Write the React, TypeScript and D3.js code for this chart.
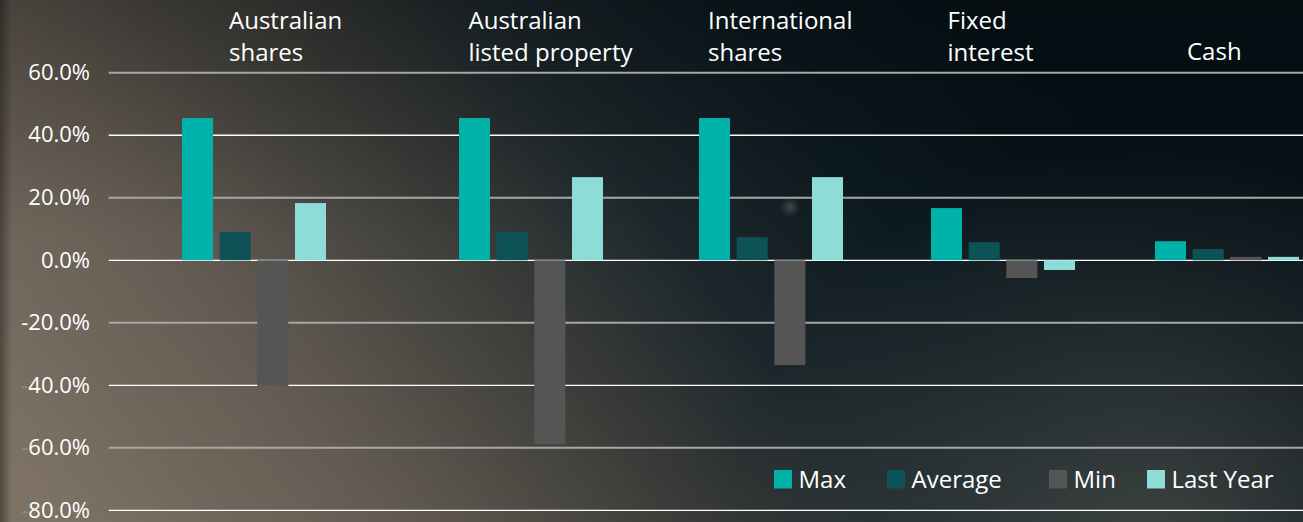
import React from "react";
import * as d3 from "d3";

// ---------- data ----------
const categories = [
  "Australian shares",
  "Australian listed property",
  "International shares",
  "Fixed interest",
  "Cash",
];
const categoryLines = [
  ["Australian", "shares"],
  ["Australian", "listed property"],
  ["International", "shares"],
  ["Fixed", "interest"],
  ["Cash"],
];
const seriesNames = ["Max", "Average", "Min", "Last Year"];
const maxValues = [45.5, 45.5, 45.5, 16.7, 6.1];
const averageValues = [9.0, 9.0, 7.4, 5.8, 3.6];
const minValues = [-40.2, -58.8, -33.5, -5.7, 1.1];
const lastYearValues = [18.3, 26.6, 26.6, -3.1, 1.1];
const yTicks = [60, 40, 20, 0, -20, -40, -60, -80];
const yTickLabels = ["60.0%", "40.0%", "20.0%", "0.0%", "-20.0%", "-40.0%", "-60.0%", "-80.0%"];

// ---------- layout / style ----------
const W = 1303;
const H = 522;
const seriesColors = ["#00b2a9", "#0d5257", "#555555", "#8edcd7"];
const groupStarts = [182, 459, 699, 931, 1155];
const legendX = [774, 887, 1049, 1147];
const FONT = "'Open Sans', 'DejaVu Sans', sans-serif";

export default function App() {
  const seriesValues = [maxValues, averageValues, minValues, lastYearValues];

  const y = d3.scaleLinear().domain([-80, 60]).range([510.4, 72.7]);
  const groupX = d3
    .scaleLinear()
    .domain(categories.map((_, i) => i))
    .range(groupStarts);
  const inner = d3
    .scaleBand<string>()
    .domain(seriesNames)
    .range([0, 144])
    .paddingInner(0.177)
    .paddingOuter(0);
  const labelX = d3.scalePoint<string>().domain(categories).range([229, 1187]);

  return (
    <svg
      width={W}
      height={H}
      style={{ position: "absolute", left: 0, top: 0, display: "block" }}
      fontFamily={FONT}
    >
      <defs>
        <linearGradient id="bg" gradientUnits="userSpaceOnUse" x1="120" y1="600" x2="950" y2="-40">
          <stop offset="0" stopColor="#7d7265" />
          <stop offset="0.25" stopColor="#635b52" />
          <stop offset="0.45" stopColor="#3f3f3b" />
          <stop offset="0.62" stopColor="#1e282c" />
          <stop offset="0.8" stopColor="#0c1a20" />
          <stop offset="1" stopColor="#061117" />
        </linearGradient>
        <linearGradient id="topShade" x1="0" y1="0" x2="0" y2="1">
          <stop offset="0" stopColor="#000" stopOpacity="0.25" />
          <stop offset="0.45" stopColor="#000" stopOpacity="0" />
        </linearGradient>
        <radialGradient id="brGlow" gradientUnits="userSpaceOnUse" cx="1150" cy="560" r="420">
          <stop offset="0" stopColor="#4a4e4b" stopOpacity="0.8" />
          <stop offset="1" stopColor="#4a4e4b" stopOpacity="0" />
        </radialGradient>
        <radialGradient id="spot" cx="0.5" cy="0.5" r="0.5">
          <stop offset="0" stopColor="#8a9590" stopOpacity="0.35" />
          <stop offset="1" stopColor="#8a9590" stopOpacity="0" />
        </radialGradient>
        <linearGradient id="leftEdge" x1="0" y1="0" x2="1" y2="0">
          <stop offset="0" stopColor="#000" stopOpacity="0.35" />
          <stop offset="1" stopColor="#000" stopOpacity="0" />
        </linearGradient>
      </defs>

      {/* background */}
      <rect x={0} y={0} width={W} height={H} fill="url(#bg)" />
      <rect x={0} y={0} width={W} height={H} fill="url(#topShade)" />
      <rect x={0} y={0} width={W} height={H} fill="url(#brGlow)" />
      <rect x={0} y={0} width={12} height={H} fill="url(#leftEdge)" />
      <circle cx={790} cy={207} r={10} fill="url(#spot)" />

      {/* gridlines */}
      {yTicks.map((t, i) => (
        <line
          key={"g" + t}
          x1={108.7}
          x2={W}
          y1={y(t)}
          y2={y(t)}
          stroke={i % 2 === 0 ? "#a7a7a5" : "#ffffff"}
          strokeWidth={i % 2 === 0 ? 2 : 1.3}
        />
      ))}

      {/* y labels */}
      {yTicks.map((t, i) => {
        const label = yTickLabels[i];
        const faintMinus = t < -20;
        return (
          <text
            key={"yl" + t}
            x={90}
            y={y(t)}
            dy="0.33em"
            textAnchor="end"
            fill="#ffffff"
            fontSize={22}
          >
            {faintMinus ? (
              <>
                <tspan fillOpacity={0.2}>-</tspan>
                <tspan>{label.slice(1)}</tspan>
              </>
            ) : (
              label
            )}
          </text>
        );
      })}

      {/* bars */}
      {categories.map((c, ci) =>
        seriesNames.map((s, si) => {
          const v = seriesValues[si][ci];
          const x0 = groupX(ci) + (inner(s) ?? 0);
          const y0 = y(Math.max(0, v));
          const y1 = y(Math.min(0, v));
          return (
            <rect
              key={c + s}
              x={x0}
              y={y0}
              width={inner.bandwidth()}
              height={Math.max(0, y1 - y0)}
              fill={seriesColors[si]}
            />
          );
        })
      )}

      {/* category labels */}
      {categories.map((c, ci) => {
        const lines = categoryLines[ci];
        const baselines = lines.length === 1 ? [59.5] : [28.5, 60.5];
        return (
          <text key={"cl" + c} fill="#ffffff" fontSize={24}>
            {lines.map((ln, li) => (
              <tspan key={li} x={labelX(c)} y={baselines[li]}>
                {ln}
              </tspan>
            ))}
          </text>
        );
      })}

      {/* legend */}
      {seriesNames.map((s, si) => (
        <g key={"lg" + s} transform={`translate(${legendX[si]},0)`}>
          <rect x={0} y={470} width={18} height={18.5} fill={seriesColors[si]} />
          <text x={24.5} y={488.3} fill="#ffffff" fontSize={24}>
            {s}
          </text>
        </g>
      ))}
    </svg>
  );
}
